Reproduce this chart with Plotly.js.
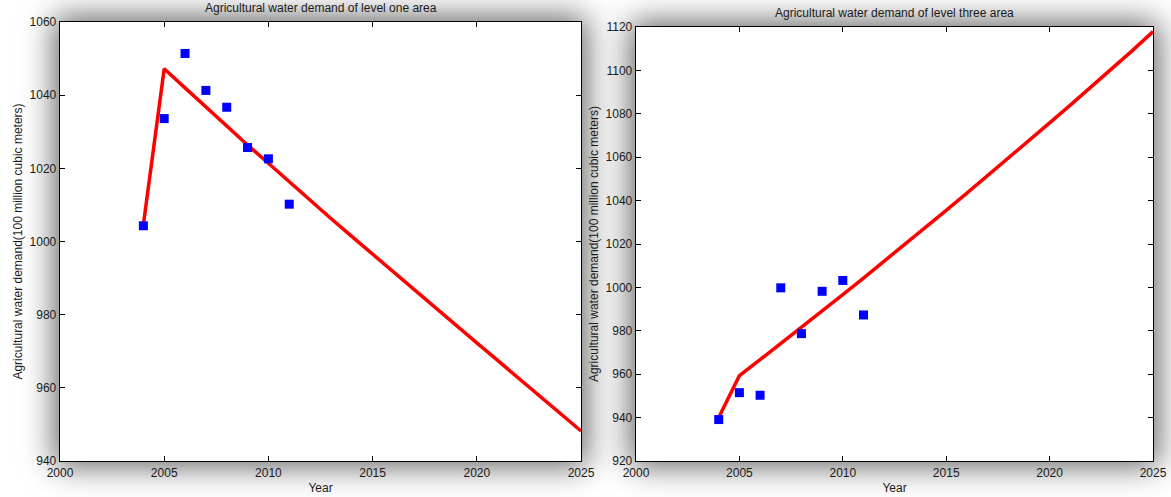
<!DOCTYPE html>
<html>
<head>
<meta charset="utf-8">
<script src="https://cdn.plot.ly/plotly-3.0.1.min.js"></script>
<style>
  html, body { margin: 0; padding: 0; background: #ffffff; }
  #wrap { position: relative; width: 1171px; height: 497px; overflow: hidden; }
  .shadow { position: absolute; background: #ffffff; box-shadow: 0 0 30px 5px rgba(0,0,0,0.62); }
  #chart { position: absolute; left: 0; top: 0; width: 1171px; height: 497px; }
</style>
</head>
<body>
<div id="wrap">
  <div class="shadow" id="sh1"></div>
  <div class="shadow" id="sh2"></div>
  <div id="chart"></div>
</div>
<script>
// Observed years and demand values (100 million cubic meters)
const obsYears = [2004, 2005, 2006, 2007, 2008, 2009, 2010, 2011];
const levelOneObserved = [1004.3, 1033.6, 1051.4, 1041.3, 1036.7, 1025.7, 1022.6, 1010.2];
const levelThreeObserved = [939.1, 951.5, 950.3, 999.8, 978.7, 998.2, 1003.2, 987.3];

// Fitted / forecast curve, 2004-2025
const fitYears = [2004, 2005, 2006, 2007, 2008, 2009, 2010, 2011, 2012, 2013, 2014,
                  2015, 2016, 2017, 2018, 2019, 2020, 2021, 2022, 2023, 2024, 2025];
const levelOneFitted = [1004.6, 1047.2, 1042.0, 1036.7, 1031.5, 1026.4, 1021.4, 1016.3, 1011.3, 1006.3, 1001.4,
                        996.5, 991.6, 986.7, 981.9, 977.1, 972.3, 967.5, 962.7, 957.9, 953.0, 948.2];
const levelThreeFitted = [940.0, 959.3, 966.7, 974.1, 981.6, 989.1, 996.7, 1004.3, 1012.0, 1019.8, 1027.6,
                          1035.5, 1043.4, 1051.4, 1059.5, 1067.6, 1075.8, 1084.0, 1092.3, 1100.7, 1109.1, 1117.9];

const xTicks = [2000, 2005, 2010, 2015, 2020, 2025];
const yTicksOne = [940, 960, 980, 1000, 1020, 1040, 1060];
const yTicksThree = [920, 940, 960, 980, 1000, 1020, 1040, 1060, 1080, 1100, 1120];

const titleOne = 'Agricultural water demand of level one area';
const titleThree = 'Agricultural water demand of level three area';
const xLabel = 'Year';
const yLabel = 'Agricultural water demand(100 million cubic meters)';

const W = 1171, H = 497;
const dom1 = [60 / W, 581 / W];
const dom2 = [636 / W, 1153 / W];
const ydom1 = [(H - 461) / H, (H - 22) / H];
const ydom2 = [(H - 461) / H, (H - 27) / H];

// place the drop-shadow panels under each plotting area
function placeShadow(id, xd, yd) {
  const el = document.getElementById(id);
  el.style.left = (xd[0] * W) + 'px';
  el.style.width = ((xd[1] - xd[0]) * W) + 'px';
  el.style.top = ((1 - yd[1]) * H) + 'px';
  el.style.height = ((yd[1] - yd[0]) * H) + 'px';
}
placeShadow('sh1', dom1, ydom1);
placeShadow('sh2', dom2, ydom2);

const font = { family: 'Liberation Sans, Arial, sans-serif', size: 12, color: '#1a1a1a' };

const markerStyle = { symbol: 'square', size: 9, color: '#0000ff' };
const lineStyle = { color: '#ff0000', width: 3.5 };

const traces = [
  { x: fitYears, y: levelOneFitted, type: 'scatter', mode: 'lines', line: lineStyle, xaxis: 'x', yaxis: 'y' },
  { x: obsYears, y: levelOneObserved, type: 'scatter', mode: 'markers', marker: markerStyle, xaxis: 'x', yaxis: 'y' },
  { x: fitYears, y: levelThreeFitted, type: 'scatter', mode: 'lines', line: lineStyle, xaxis: 'x2', yaxis: 'y2' },
  { x: obsYears, y: levelThreeObserved, type: 'scatter', mode: 'markers', marker: markerStyle, xaxis: 'x2', yaxis: 'y2' }
];

function xAxis(domain, anchor) {
  return {
    domain: domain, anchor: anchor, range: [2000, 2025],
    tickmode: 'array', tickvals: xTicks, ticktext: xTicks.map(String),
    ticks: 'inside', ticklen: 5, tickcolor: '#000', tickwidth: 1,
    showline: true, linecolor: '#000', linewidth: 1.3, mirror: 'ticks',
    showgrid: false, zeroline: false, tickfont: font,
    title: { text: xLabel, font: font, standoff: 5 }
  };
}
function yAxis(domain, anchor, range, ticks) {
  return {
    domain: domain, anchor: anchor, range: range,
    tickmode: 'array', tickvals: ticks, ticktext: ticks.map(String),
    ticks: 'inside', ticklen: 5, tickcolor: '#000', tickwidth: 1,
    showline: true, linecolor: '#000', linewidth: 1.3, mirror: 'ticks',
    showgrid: false, zeroline: false, tickfont: font,
    title: { text: yLabel, font: font, standoff: 4 }
  };
}

const layout = {
  width: W, height: H,
  margin: { l: 0, r: 0, t: 0, b: 0 },
  paper_bgcolor: 'rgba(0,0,0,0)',
  plot_bgcolor: '#ffffff',
  showlegend: false,
  font: font,
  xaxis: xAxis(dom1, 'y'),
  yaxis: yAxis(ydom1, 'x', [940, 1060], yTicksOne),
  xaxis2: xAxis(dom2, 'y2'),
  yaxis2: yAxis(ydom2, 'x2', [920, 1120], yTicksThree),
  annotations: [
    { text: titleOne, xref: 'paper', yref: 'paper', x: (dom1[0] + dom1[1]) / 2, y: ydom1[1],
      xanchor: 'center', yanchor: 'bottom', yshift: 5, showarrow: false, font: font },
    { text: titleThree, xref: 'paper', yref: 'paper', x: (dom2[0] + dom2[1]) / 2, y: ydom2[1],
      xanchor: 'center', yanchor: 'bottom', yshift: 5, showarrow: false, font: font }
  ]
};

Plotly.newPlot('chart', traces, layout, { displayModeBar: false, staticPlot: true });
</script>
</body>
</html>
